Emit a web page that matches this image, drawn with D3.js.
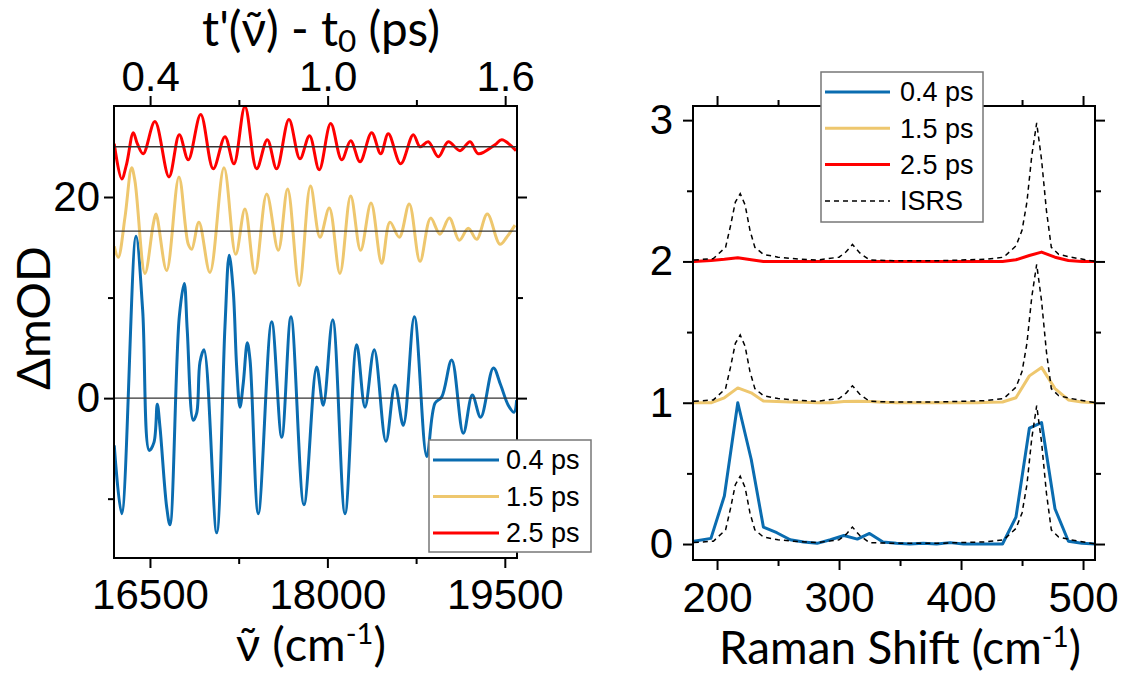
<!DOCTYPE html>
<html>
<head>
<meta charset="utf-8">
<script src="https://cdn.jsdelivr.net/npm/d3@7"></script>
<style>
  body { margin: 0; background: #fff; }
  text { font-family: "Liberation Sans", Arial, sans-serif; }
  .title { font-family: Lato, "Open Sans", sans-serif; }
</style>
</head>
<body>
<svg id="chart" width="1125" height="673"></svg>
<script>
// ---- left panel: transient traces (wavenumber, dOD relative to each baseline)
var wnBlue = [16198,16261,16382,16438,16494,16534,16562,16585,16641,16669,16748,16790,16815,16866,16895,16923,16957,17064,17134,17170,17204,17233,17261,17289,17323,17346,17416,17529,17614,17692,17802,17909,17965,18045,18149,18248,18318,18396,18495,18571,18642,18735,18840,18910,18966,19051,19149,19225,19296,19403,19465,19529,19578,19600];
var dBlue = [-4.7,-11.5,16.1,8.8,-5.2,-4.4,-0.6,-2.9,-10.8,-12.6,8.1,11.4,6.8,-2.2,-1.5,3.6,4.8,-13.4,7.1,14.2,10.7,3.1,-0.9,1.5,5.5,3.8,-11.5,7.6,-3.9,8.1,-10.6,3.1,-0.7,7.8,-11.5,5.3,-0.9,4.8,-4.3,1.3,-2.7,8.1,-5.8,-0.5,0.1,3.8,-3.5,0.3,-1.9,3.0,1.3,-0.7,-1.4,-0.2];

var wnYel = [16198,16232,16289,16345,16373,16458,16528,16551,16641,16745,16824,16853,16914,17007,17126,17225,17303,17388,17487,17585,17664,17762,17857,17937,18016,18106,18197,18281,18369,18459,18529,18608,18692,18783,18873,18952,19031,19115,19191,19262,19352,19459,19516,19586];
var dYel = [-1.5,-2.6,1.4,6.3,5.0,-4.2,0.7,1.7,-3.9,5.4,-1.3,-1.8,0.9,-4.1,6.3,-2.3,2.2,-4.2,3.7,-1.9,4.2,-5.4,4.5,-0.6,2.3,-4.2,3.5,-1.9,2.8,-3.2,0.9,-0.6,2.7,-3.0,1.3,-0.3,1.3,-0.9,0.3,-0.8,1.7,-1.3,-0.6,0.6];

var wnRed = [16198,16261,16303,16359,16393,16443,16542,16661,16748,16824,16929,17035,17134,17210,17303,17402,17492,17571,17675,17768,17849,17931,18028,18121,18197,18276,18374,18451,18515,18620,18726,18783,18853,18938,19022,19121,19206,19276,19417,19474,19595];
var dRed = [0.3,-3.2,-1.7,1.4,0.3,-0.7,2.5,-3.0,1.2,-1.3,3.2,-2.2,1.0,-1.7,4.0,-2.2,0.7,-2.2,2.7,-1.2,1.1,-2.3,2.3,-1.3,0.6,-1.5,1.4,-0.7,1.3,-1.7,1.2,0,0.5,-1.0,0.5,-0.4,0.5,-0.7,0.2,0.7,-0.4];

var leftOffsets = [0, 16.6, 25];
var seriesNames = ["0.4 ps", "1.5 ps", "2.5 ps"];
var seriesColors = ["#0a6cb0", "#eec76e", "#ff0000"];

// ---- right panel: Raman spectra
var ramanGrid = [181,195,206,217,228,238,249,260,271,282,293,304,315,325,336,347,358,369,380,391,402,413,424,434,445,456,466,477,488,499,510];
var r04 = [0.02,0.04,0.34,1.0,0.6,0.12,0.08,0.03,0.015,0.005,0.03,0.06,0.035,0.075,0.015,0.005,0,0.005,0,0.01,0,0,0,0,0.19,0.82,0.86,0.25,0.02,0.005,0];
var r15 = [0,0,0.035,0.105,0.07,0.012,0.008,0.005,0.003,0,0,0.008,0.01,0.008,0.003,0,0,0,0,0,0,0,0.003,0.005,0.035,0.19,0.25,0.1,0.02,0.005,0];
var r25 = [0,0.007,0.015,0.026,0.012,0,0,0,0,0,0,0,0,0,0,0,0,0,0,0,0,0,0,0,0.012,0.042,0.066,0.03,0.007,0,0];
var isrsX = [181,197,207,211,215,219,223,227,231,238,250,262,282,300,306,311,317,325,345,380,420,435,445,450,454,458,462,466,470,474,480,490,510];
var isrsY = [0.01,0.02,0.1,0.25,0.42,0.48,0.40,0.22,0.1,0.05,0.03,0.02,0.01,0.03,0.07,0.12,0.06,0.01,0.005,0.005,0.015,0.03,0.11,0.22,0.42,0.75,0.98,0.72,0.36,0.1,0.05,0.03,0.0];
var rightOffsets = [0, 1, 2];

// ticks
var wnMajor = [16500, 18000, 19500], wnMinor = [17250, 18750];
var tMajor = [0.4, 1.0, 1.6], tMinor = [0.7, 1.3];
var odMajor = [0, 20], odMinor = [-10, 10];
var ramMajor = [200, 300, 400, 500], ramMinor = [250, 350, 450];
var intMajor = [0, 1, 2, 3], intMinor = [0.5, 1.5, 2.5];

var svg = d3.select("#chart");

// frames (pixel boxes)
var L = {x0: 114, x1: 517, y0: 106, y1: 558};
var R = {x0: 693, x1: 1095, y0: 106, y1: 560};

var xL = d3.scaleLinear().domain([16196, 19603]).range([L.x0, L.x1]);
var tL = d3.scaleLinear().domain([0.278, 1.64]).range([L.x0, L.x1]);
var yL = d3.scaleLinear().domain([-15.9, 29.05]).range([L.y1, L.y0]);
var xR = d3.scaleLinear().domain([180.3, 509.8]).range([R.x0, R.x1]);
var yR = d3.scaleLinear().domain([-0.113, 3.1]).range([R.y1, R.y0]);

function styleAxis(g) {
  g.select(".domain").remove();
  g.selectAll("line").attr("stroke", "#000").attr("stroke-width", 2);
  g.selectAll("text").attr("font-family", "Liberation Sans, Arial, sans-serif").attr("font-size", 42).attr("fill", "#000");
}

function addAxis(axisFn, scale, major, minor, fmt, pad, tr, showLabels) {
  var gMaj = svg.append("g").attr("transform", tr)
    .call(axisFn(scale).tickValues(major).tickSize(10).tickPadding(pad)
      .tickFormat(showLabels ? fmt : ""));
  styleAxis(gMaj);
  var gMin = svg.append("g").attr("transform", tr)
    .call(axisFn(scale).tickValues(minor).tickSize(6).tickFormat(""));
  styleAxis(gMin);
}

// scale a title's font so that it spans the width seen in the picture
function fitWidth(sel, target) {
  var w = sel.node().getComputedTextLength();
  var fs = parseFloat(sel.attr("font-size"));
  if (w > 0) sel.attr("font-size", fs * target / w);
}

// ---- left panel
svg.append("clipPath").attr("id", "clipL").append("rect")
  .attr("x", L.x0).attr("y", L.y0).attr("width", L.x1 - L.x0).attr("height", L.y1 - L.y0);

var leftSeries = [
  {x: wnBlue, y: dBlue},
  {x: wnYel, y: dYel},
  {x: wnRed, y: dRed}
];

var lineL = d3.line().curve(d3.curveCatmullRom.alpha(0.5))
  .x(d => xL(d[0])).y(d => yL(d[1]));

var plotL = svg.append("g").attr("clip-path", "url(#clipL)");
leftSeries.forEach(function(s, i) {
  var pts = s.x.map((w, k) => [w, s.y[k] + leftOffsets[i]]);
  plotL.append("path").datum(pts)
    .attr("d", lineL)
    .attr("fill", "none")
    .attr("stroke", seriesColors[i])
    .attr("stroke-width", 3)
    .attr("stroke-linejoin", "round");
});
plotL.selectAll("line.base").data(leftOffsets).enter().append("line")
  .attr("x1", L.x0).attr("x2", L.x1)
  .attr("y1", d => yL(d)).attr("y2", d => yL(d))
  .attr("stroke", "#333").attr("stroke-width", 1.3);

svg.append("rect").attr("x", L.x0).attr("y", L.y0)
  .attr("width", L.x1 - L.x0).attr("height", L.y1 - L.y0)
  .attr("fill", "none").attr("stroke", "#000").attr("stroke-width", 2);

addAxis(d3.axisBottom, xL, wnMajor, wnMinor, d3.format("d"), 11, `translate(0,${L.y1})`, true);
addAxis(d3.axisTop, tL, tMajor, tMinor, d3.format(".1f"), 5, `translate(0,${L.y0})`, true);
addAxis(d3.axisLeft, yL, odMajor, odMinor, d3.format("d"), 4, `translate(${L.x0},0)`, true);
addAxis(d3.axisRight, yL, odMajor, odMinor, d3.format("d"), 4, `translate(${L.x1},0)`, false);

// left legend
var legL = svg.append("g");
legL.append("rect").attr("x", 429).attr("y", 440).attr("width", 162).attr("height", 112)
  .attr("fill", "#fff").attr("stroke", "#777").attr("stroke-width", 1.5);
seriesNames.forEach(function(n, i) {
  var yy = 460 + i * 36.5;
  legL.append("line").attr("x1", 433).attr("x2", 499).attr("y1", yy).attr("y2", yy)
    .attr("stroke", seriesColors[i]).attr("stroke-width", 3);
  legL.append("text").attr("x", 506).attr("y", yy).attr("dy", "0.35em")
    .attr("font-size", 27).text(n);
});

// left titles
var yt = svg.append("text").attr("class", "title")
  .attr("transform", "translate(50,318) rotate(-90)")
  .attr("text-anchor", "middle").attr("font-size", 44).text("ΔmOD");
fitWidth(yt, 144);

var tt = svg.append("text").attr("class", "title")
  .attr("x", 321).attr("y", 46).attr("text-anchor", "middle").attr("font-size", 40);
tt.append("tspan").text("t'(ν\u0303) - t");
tt.append("tspan").attr("dy", "0.2em").attr("font-size", "0.66em").text("0");
tt.append("tspan").attr("dy", "-0.132em").text(" (ps)");
fitWidth(tt, 238);

var bt = svg.append("text").attr("class", "title")
  .attr("x", 311).attr("y", 661).attr("text-anchor", "middle").attr("font-size", 42);
bt.append("tspan").text("ν\u0303 (cm");
bt.append("tspan").attr("dy", "-0.6em").attr("font-size", "0.62em").text("-1");
bt.append("tspan").attr("dy", "0.372em").text(")");
fitWidth(bt, 150);

// ---- right panel
var rightSeries = [r04, r15, r25];
var lineR = d3.line().x(d => xR(d[0])).y(d => yR(d[1]));

rightSeries.forEach(function(vals, i) {
  var pts = ramanGrid.map((r, k) => [r, vals[k] + rightOffsets[i]]);
  svg.append("path").datum(pts)
    .attr("d", lineR).attr("fill", "none")
    .attr("stroke", seriesColors[i]).attr("stroke-width", 3)
    .attr("stroke-linejoin", "round");
});
rightOffsets.forEach(function(off) {
  var pts = isrsX.map((r, k) => [r, isrsY[k] + off]);
  svg.append("path").datum(pts)
    .attr("d", lineR).attr("fill", "none")
    .attr("stroke", "#000").attr("stroke-width", 1.5)
    .attr("stroke-dasharray", "5,4");
});

svg.append("rect").attr("x", R.x0).attr("y", R.y0)
  .attr("width", R.x1 - R.x0).attr("height", R.y1 - R.y0)
  .attr("fill", "none").attr("stroke", "#000").attr("stroke-width", 2);

addAxis(d3.axisBottom, xR, ramMajor, ramMinor, d3.format("d"), 12, `translate(0,${R.y1})`, true);
addAxis(d3.axisTop, xR, ramMajor, ramMinor, d3.format("d"), 5, `translate(0,${R.y0})`, false);
addAxis(d3.axisLeft, yR, intMajor, intMinor, d3.format("d"), 10, `translate(${R.x0},0)`, true);
addAxis(d3.axisRight, yR, intMajor, intMinor, d3.format("d"), 10, `translate(${R.x1},0)`, false);

// right legend
var legR = svg.append("g");
legR.append("rect").attr("x", 821).attr("y", 72).attr("width", 162).attr("height", 150)
  .attr("fill", "#fff").attr("stroke", "#777").attr("stroke-width", 1.5);
var rNames = seriesNames.concat(["ISRS"]);
var rColors = seriesColors.concat(["#000"]);
rNames.forEach(function(n, i) {
  var yy = 92 + i * 36.3;
  legR.append("line").attr("x1", 825).attr("x2", 890).attr("y1", yy).attr("y2", yy)
    .attr("stroke", rColors[i]).attr("stroke-width", i < 3 ? 3 : 1.5)
    .attr("stroke-dasharray", i < 3 ? null : "5,4");
  legR.append("text").attr("x", 900).attr("y", yy).attr("dy", "0.35em")
    .attr("font-size", 27).text(n);
});

var rt = svg.append("text").attr("class", "title")
  .attr("x", 900).attr("y", 664).attr("text-anchor", "middle").attr("font-size", 42);
rt.append("tspan").text("Raman Shift (cm");
rt.append("tspan").attr("dy", "-0.6em").attr("font-size", "0.62em").text("-1");
rt.append("tspan").attr("dy", "0.372em").text(")");
fitWidth(rt, 362);
</script>
</body>
</html>
